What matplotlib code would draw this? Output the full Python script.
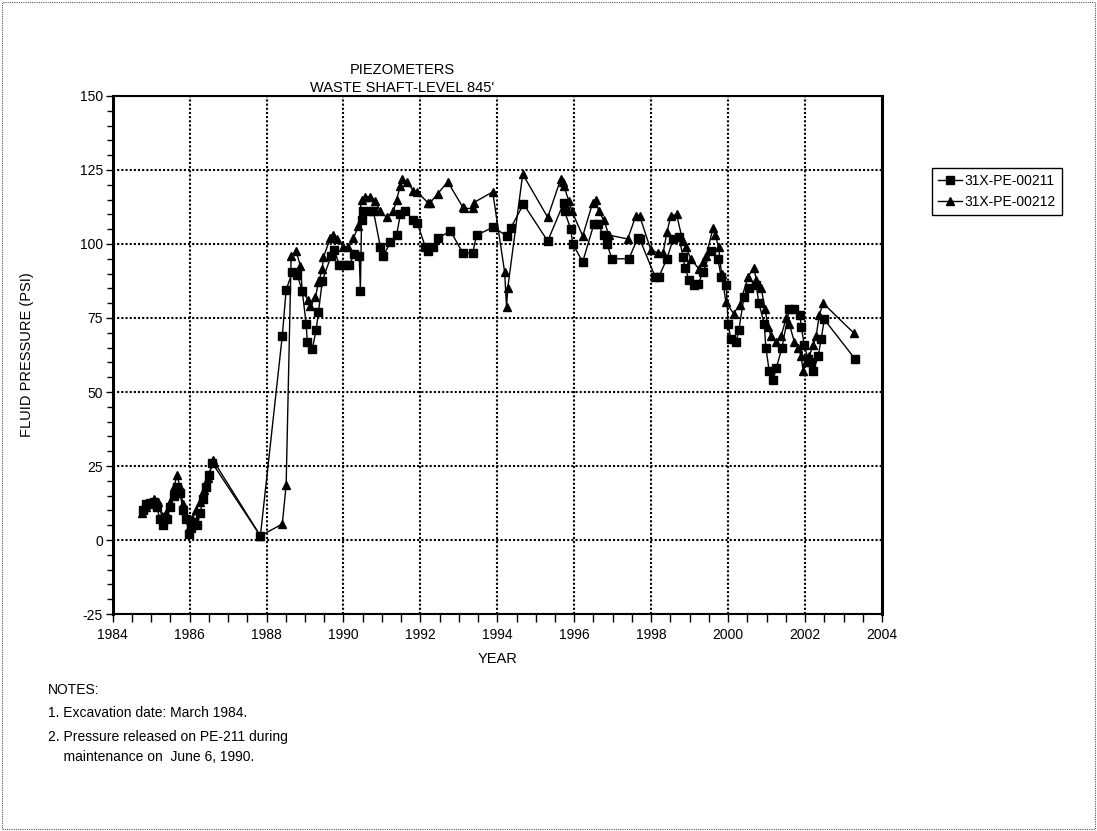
import matplotlib
matplotlib.use("Agg")
import matplotlib.pyplot as plt
from matplotlib.ticker import MultipleLocator
from matplotlib.patches import Rectangle

plt.rcParams['font.family'] = ['Liberation Sans', 'DejaVu Sans']
plt.rcParams['axes.unicode_minus'] = False

# DATA

# 31X-PE-00211 (squares)
yr_211 = [1984.79, 1984.87, 1984.97, 1985.08, 1985.15, 1985.23, 1985.31, 1985.41, 1985.49, 1985.60,
          1985.67, 1985.75, 1985.83, 1985.91, 1985.99, 1986.04, 1986.12, 1986.20, 1986.27, 1986.35,
          1986.43, 1986.51, 1986.59, 1987.84, 1988.41, 1988.51, 1988.67, 1988.80, 1988.93, 1989.03,
          1989.06, 1989.19, 1989.29, 1989.35, 1989.45, 1989.68, 1989.76, 1989.89, 1990.02, 1990.15,
          1990.28, 1990.41, 1990.44, 1990.47, 1990.52, 1990.70, 1990.78, 1990.96, 1991.04, 1991.22,
          1991.38, 1991.48, 1991.61, 1991.82, 1991.92, 1992.13, 1992.21, 1992.34, 1992.47, 1992.78,
          1993.10, 1993.36, 1993.46, 1993.90, 1994.24, 1994.35, 1994.68, 1995.31, 1995.73, 1995.75,
          1995.91, 1995.96, 1996.22, 1996.51, 1996.61, 1996.77, 1996.85, 1996.98, 1997.42, 1997.65,
          1997.70, 1998.10, 1998.20, 1998.41, 1998.57, 1998.72, 1998.83, 1998.88, 1998.98, 1999.11,
          1999.22, 1999.35, 1999.55, 1999.73, 1999.82, 1999.95, 2000.00, 2000.07, 2000.21, 2000.28,
          2000.41, 2000.54, 2000.73, 2000.80, 2000.94, 2000.98, 2001.07, 2001.17, 2001.25, 2001.40,
          2001.59, 2001.72, 2001.87, 2001.90, 2001.98, 2002.08, 2002.16, 2002.21, 2002.34, 2002.42,
          2002.50, 2003.31]
val_211 = [10, 12, 12.5, 13, 11, 7, 5, 7, 11, 15,
           18, 16, 10, 7, 2, 4, 6, 5, 9, 14,
           18, 22, 26, 1.4, 69, 84.5, 90.5, 89.5, 84, 73,
           67, 64.5, 71, 77, 87.5, 96, 98, 93, 93, 93,
           96.6, 96, 84, 108, 111, 111, 111, 99, 96, 100.6,
           103, 110, 111, 108, 107, 99, 97.6, 99, 102, 104.5,
           97, 97, 103, 105.7, 102.7, 105.4, 113.5, 101, 114, 111,
           105, 100, 94, 106.7, 106.7, 103, 100, 95, 95, 102,
           101.7, 89, 89, 95, 101.7, 102.4, 95.6, 92, 88, 86,
           86.5, 90.5, 97.5, 95, 89, 86, 73, 68, 67, 71,
           82, 85, 86, 80, 73, 65, 57, 54, 58, 65,
           78, 78, 76, 72, 66, 61, 60, 57, 62, 68,
           74.5, 61]

# 31X-PE-00212 (triangles)
yr_212 = [1984.76, 1984.87, 1984.97, 1985.08, 1985.18, 1985.28, 1985.39, 1985.49, 1985.60, 1985.67,
          1985.75, 1985.83, 1985.91, 1985.99, 1986.07, 1986.17, 1986.27, 1986.38, 1986.48, 1986.61,
          1987.84, 1988.41, 1988.51, 1988.64, 1988.77, 1988.88, 1988.93, 1989.09, 1989.14, 1989.27,
          1989.35, 1989.45, 1989.48, 1989.66, 1989.74, 1989.84, 1990.00, 1990.13, 1990.26, 1990.39,
          1990.47, 1990.57, 1990.70, 1990.83, 1990.96, 1991.12, 1991.30, 1991.38, 1991.48, 1991.53,
          1991.64, 1991.82, 1991.92, 1992.19, 1992.26, 1992.45, 1992.71, 1993.10, 1993.13, 1993.36,
          1993.39, 1993.88, 1994.19, 1994.24, 1994.27, 1994.66, 1995.31, 1995.65, 1995.70, 1995.73,
          1995.86, 1995.94, 1996.22, 1996.48, 1996.56, 1996.64, 1996.77, 1996.90, 1997.39, 1997.60,
          1997.70, 1997.99, 1998.18, 1998.31, 1998.41, 1998.51, 1998.66, 1998.82, 1998.90, 1999.03,
          1999.24, 1999.35, 1999.43, 1999.61, 1999.67, 1999.75, 1999.83, 1999.94, 2000.14, 2000.30,
          2000.52, 2000.67, 2000.73, 2000.86, 2000.96, 2001.04, 2001.11, 2001.24, 2001.38, 2001.51,
          2001.59, 2001.72, 2001.82, 2001.90, 2001.95, 2002.03, 2002.11, 2002.21, 2002.29, 2002.37,
          2002.47, 2003.26]
val_212 = [9, 11, 12, 14, 13, 8, 9, 13, 18, 22,
           18, 12, 8, 4, 7, 10, 13, 17, 21, 27,
           1.4, 5.4, 18.6, 96, 97.6, 92.6, 84, 81, 79, 82,
           87, 91.6, 95.6, 102, 103, 101.7, 99, 99, 102, 106,
           115, 116, 116, 114.5, 111, 109, 111, 115, 119.6, 122,
           121, 118, 117.6, 114, 114, 117, 121, 112.5, 112, 112,
           114, 117.6, 90.5, 78.7, 85, 123.6, 109, 122, 121, 119.6,
           114.5, 111, 102.7, 114, 115, 111, 108, 103, 101.7, 109.5,
           109.5, 98, 97, 97, 104, 109.5, 110, 101, 99, 95,
           91.6, 94, 96, 105.5, 103, 99, 90, 80.5, 76.5, 79.5,
           89, 92, 88, 85, 78, 72, 69, 67, 69, 75,
           73, 67, 65, 62, 57, 60, 62, 66, 69, 76,
           80, 70]

x_ticks = [1984, 1986, 1988, 1990, 1992, 1994, 1996, 1998, 2000, 2002, 2004]
y_ticks = [-25, 0, 25, 50, 75, 100, 125, 150]

notes = ["NOTES:",
         "1. Excavation date: March 1984.",
         "2. Pressure released on PE-211 during",
         "    maintenance on  June 6, 1990."]

# PLOT

fig = plt.figure(figsize=(10.97, 8.31), dpi=100)
ax = fig.add_axes([0.1027, 0.2611, 0.7013, 0.6234])

ax.plot(yr_211, val_211, color='black', lw=1.0, marker='s', ms=6, label='31X-PE-00211')
ax.plot(yr_212, val_212, color='black', lw=1.0, marker='^', ms=6, label='31X-PE-00212')

ax.set_xlim(1984, 2004)
ax.set_ylim(-25, 150)
ax.set_xticks(x_ticks)
ax.set_yticks(y_ticks)
ax.xaxis.set_minor_locator(MultipleLocator(0.5))
ax.yaxis.set_minor_locator(MultipleLocator(5))
ax.tick_params(which='major', direction='out', length=5, width=1, labelsize=10, pad=2)
ax.tick_params(which='minor', direction='out', length=4, width=1)
ax.tick_params(axis='x', which='both', length=6, pad=4)
ax.grid(True, which='major', color='black', linestyle=(0, (1, 1)), linewidth=1.5)
for side in ['left', 'right']:
    ax.spines[side].set_linewidth(2.2)
for side in ['top', 'bottom']:
    ax.spines[side].set_linewidth(1.5)

ax.set_xlabel('YEAR', fontsize=10.5, labelpad=7)
ax.set_ylabel('FLUID PRESSURE (PSI)', fontsize=10.5, labelpad=33)

fig.text(402 / 1097, 1 - 70 / 831, 'PIEZOMETERS', ha='center', va='center', fontsize=10.5)
fig.text(402 / 1097, 1 - 88 / 831, "WASTE SHAFT-LEVEL 845'", ha='center', va='center', fontsize=10.5)

leg = ax.legend(loc='upper left', bbox_to_anchor=(932 / 1097, 1 - 168 / 831),
                bbox_transform=fig.transFigure, borderaxespad=0, fontsize=10,
                frameon=True, fancybox=False, edgecolor='black', framealpha=1,
                handlelength=1.7, handletextpad=0.2, borderpad=0.45, labelspacing=0.45)
leg.get_frame().set_linewidth(1.0)

y_pos = [690, 713, 737, 757]
for line, yp in zip(notes, y_pos):
    fig.text(48 / 1097, 1 - yp / 831, line, ha='left', va='center', fontsize=10)

# dotted page border
fig.patches.append(Rectangle((0.002, 0.003), 0.996, 0.994, transform=fig.transFigure,
                             fill=False, edgecolor='#555555', linestyle=(0, (1, 1)), linewidth=0.8))

fig.savefig('out.png', dpi=100)
